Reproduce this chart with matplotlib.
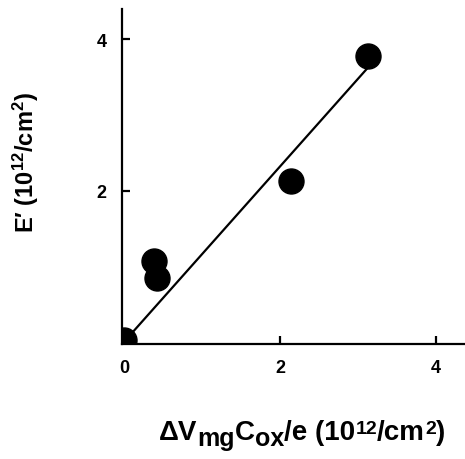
import matplotlib
matplotlib.use("Agg")
import matplotlib.pyplot as plt

plt.rcParams['font.family'] = ['Liberation Sans', 'DejaVu Sans']
plt.rcParams['font.weight'] = 'bold'
plt.rcParams['mathtext.fontset'] = 'custom'
plt.rcParams['mathtext.rm'] = 'Liberation Sans:bold'
plt.rcParams['mathtext.bf'] = 'Liberation Sans:bold'
plt.rcParams['mathtext.it'] = 'Liberation Sans:bold'
plt.rcParams['mathtext.default'] = 'rm'

# data (10^12/cm^2)
x_vals = [0.0, 0.38, 0.42, 2.14, 3.13]
y_vals = [0.02, 1.07, 0.84, 2.13, 3.78]
fit_x = [0.0, 3.12]
fit_y = [0.0, 3.62]
xticks = [0, 2, 4]
yticks = [2, 4]

W, H = 465, 460
fig = plt.figure(figsize=(W / 100, H / 100), dpi=100)
ax = fig.add_axes([0.262, 0.25, 0.738, 0.728])

ax.plot(fit_x, fit_y, color='black', lw=1.6, zorder=2)
ax.plot(x_vals, y_vals, 'o', color='black', ms=18, zorder=3)

ax.set_xlim(-0.03, 4.37)
ax.set_ylim(-0.03, 4.4)
ax.set_xticks(xticks)
ax.set_yticks(yticks)
ax.set_xticklabels([str(t) for t in xticks], fontsize=13, fontweight='bold')
ax.set_yticklabels([str(t) for t in yticks], fontsize=13, fontweight='bold')
ax.tick_params(direction='in', length=6, width=1.6, pad=11)

for s in ['top', 'right']:
    ax.spines[s].set_visible(False)
for s in ['left', 'bottom']:
    ax.spines[s].set_linewidth(1.6)

ax.set_ylabel('E\u2032 (10$^{12}$/cm$^2$)', fontsize=17, fontweight='bold',
              labelpad=40)
ax.yaxis.label.set_y(0.545)

# x label assembled from pieces: (text, baseline offset in px, size in pt)
pieces = [("\u0394V", 0, 20), ("mg", -6, 18), ("C", 0, 20), ("ox", -6, 18),
          ("/e (10", 0, 20), ("12", 6, 14), ("/cm", 0, 20),
          ("2", 6, 14), (")", 0, 20)]
renderer = fig.canvas.get_renderer()
texts = []
widths = []
for s, off, size in pieces:
    t = fig.text(0, 0, s, fontsize=size, fontweight='bold', va='baseline', ha='left')
    bb = t.get_window_extent(renderer)
    texts.append((t, off))
    widths.append(bb.width)
total = sum(widths)
x0 = 302 - total / 2
base = H - 440
xp = x0
for (t, off), w in zip(texts, widths):
    t.set_position((xp / W, (base + off) / H))
    xp += w

fig.savefig('out.png', dpi=100)
